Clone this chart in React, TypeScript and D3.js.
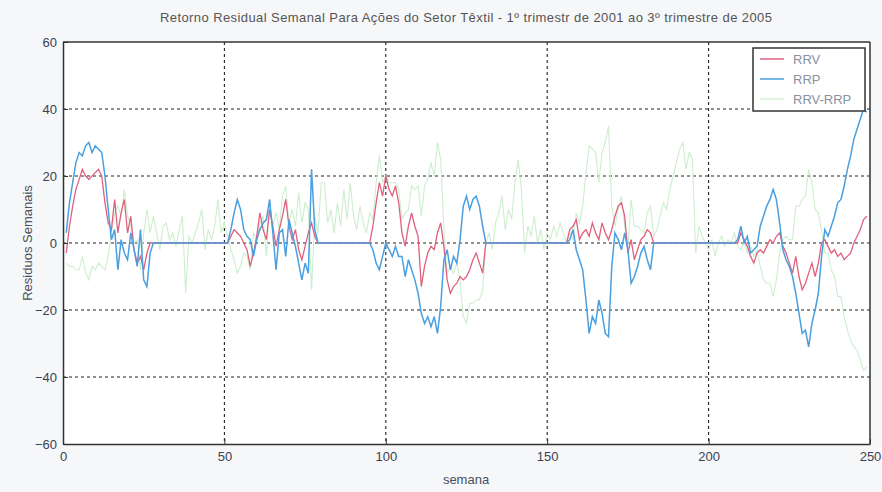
import React, { useEffect, useRef } from 'react'
import * as d3 from 'd3'

// weekly residuals, week 1..249
const rrp = [
  3, 12, 18, 24, 27, 26, 29, 30, 27, 29,
  28, 27, 20, 10, 1, 4, -8, 1, -3, -5,
  3, -2, -7, 4, -11, -13, -3, 0, 0, 0,
  0, 0, 0, 0, 0, 0, 0, 0, 0, 0,
  0, 0, 0, 0, 0, 0, 0, 0, 0, 0,
  0, 4, 9, 13, 10, 4, 2, 1, -4, 1,
  4, 6, 7, 13, 3, -8, 3, 4, -4, 7,
  3, -1, -6, -11, -6, -9, 22, 4, 0, 0,
  0, 0, 0, 0, 0, 0, 0, 0, 0, 0,
  0, 0, 0, 0, 0, -2, -6, -8, -4, 0,
  -2, -4, -1, -4, -4, -10, -5, -8, -11, -15,
  -21, -24, -22, -25, -22, -27, -19, -5, -2, -8,
  -4, -6, 1, 11, 14, 10, 13, 14, 11, 5,
  0, 0, 0, 0, 0, 0, 0, 0, 0, 0,
  0, 0, 0, 0, 0, 0, 0, 0, 0, 0,
  0, 0, 0, 0, 0, 0, 1, 4, -2, -5,
  -8, -17, -27, -22, -24, -17, -21, -27, -28, -7,
  3, 1, -2, 3, -2, -12, -10, -7, -3, -1,
  -5, -8, 0, 0, 0, 0, 0, 0, 0, 0,
  0, 0, 0, 0, 0, 0, 0, 0, 0, 0,
  0, 0, 0, 0, 0, 0, 0, 0, 1, 5,
  0, 2, -3, -2, -1, 5, 8, 11, 13, 16,
  13, 6, -2, -5, -7, -10, -15, -21, -27, -26,
  -31, -24, -20, -15, -4, 4, 2, 5, 8, 12,
  13, 17, 22, 26, 31, 34, 37, 40, 39,
]

const rrv = [
  -3, 5, 11, 16, 19, 22, 20, 19, 20, 21,
  22, 20, 12, 6, 4, 13, 3, 9, 13, 3,
  8, -2, -6, -4, -8, -3, 0, 0, 0, 0,
  0, 0, 0, 0, 0, 0, 0, 0, 0, 0,
  0, 0, 0, 0, 0, 0, 0, 0, 0, 0,
  0, 2, 4, 3, 2, 0, -2, -7, -3, 2,
  9, 4, 1, 10, 5, -1, 4, 8, 13, 5,
  1, 4, -2, -5, -1, 3, 6, 2, 0, 0,
  0, 0, 0, 0, 0, 0, 0, 0, 0, 0,
  0, 0, 0, 0, 0, 5, 12, 18, 14, 20,
  16, 14, 17, 12, 3, -1, 5, 9, 5, 2,
  -13, -7, -3, -1, -2, 3, 6, -1, -11, -15,
  -13, -12, -10, -11, -10, -8, -5, -3, -6, -9,
  0, 0, 0, 0, 0, 0, 0, 0, 0, 0,
  0, 0, 0, 0, 0, 0, 0, 0, 0, 0,
  0, 0, 0, 0, 0, 0, 4, 5, 7, 1,
  3, 4, 2, 6, 3, 1, 6, 3, 1, 4,
  8, 11, 12, 8, -3, 1, -5, -2, 1, 2,
  4, 3, 0, 0, 0, 0, 0, 0, 0, 0,
  0, 0, 0, 0, 0, 0, 0, 0, 0, 0,
  0, 0, 0, 0, 0, 0, 0, 0, 0, 3,
  1, -1, -4, -6, -3, -2, -3, -1, 1, 0,
  2, 3, -1, -3, -6, -9, -4, -10, -14, -12,
  -9, -6, -10, -6, 0, 1, -1, -3, -2, -4,
  -3, -5, -4, -3, 0, 2, 4, 7, 8,
]

const diff = [
  -6, -7, -7, -8, -8, -4, -9, -11, -7, -8,
  -6, -7, -8, -4, 3, 9, 11, 8, 16, 8,
  5, 0, 1, -8, 3, 10, 3, 8, 3, -2,
  5, 6, 1, 3, -1, 4, 8, -15, 2, 0,
  3, 6, 10, -2, 4, 1, 5, 13, 3, 6,
  2, -2, -5, -9, -7, -3, -4, -8, 3, 1,
  6, 8, -4, 12, 5, 9, 4, 14, 17, 6,
  10, 5, 15, 6, 12, 10, -14, 8, 3, 18,
  18, 6, 10, 3, 12, 5, 16, 7, 18, 8,
  4, 11, 6, 3, 9, 7, 18, 26, 18, 20,
  18, 18, 18, 16, 7, 9, 10, 17, 16, 17,
  8, 17, 19, 24, 20, 30, 25, 4, -9, -7,
  -9, -6, -11, -22, -24, -18, -18, -17, -17, -14,
  0, 3, -2, 6, 9, 14, 4, 10, 7, 18,
  25, 16, -3, 5, 2, 8, 0, 4, -2, 3,
  1, 5, 2, 6, 3, 0, 3, 1, 9, 6,
  11, 21, 29, 28, 27, 18, 27, 30, 35, 11,
  5, 10, 14, 5, -1, 13, 5, 5, 4, 3,
  9, 11, 2, 4, 8, 12, 10, 16, 20, 24,
  28, 30, 22, 27, 25, -3, 5, 2, 0, -2,
  1, -4, 0, 2, -1, 1, 0, 3, -1, -2,
  1, -3, -1, -4, -2, -7, -11, -12, -12, -16,
  -11, -3, 1, 2, 1, 1, 11, 11, 13, 14,
  22, 18, 10, 9, 4, -3, -3, -8, -10, -16,
  -16, -22, -26, -29, -31, -32, -35, -38, -37,
]

const xTicks = [0, 50, 100, 150, 200, 250]
const yTicks = [-60, -40, -20, 0, 20, 40, 60]
const legendNames = ['RRV', 'RRP', 'RRV-RRP']

export default function App() {
  const ref = useRef<SVGSVGElement>(null)

  useEffect(() => {
    const width = 882
    const height = 492
    const left = 63
    const right = 870
    const top = 42
    const bottom = 444
    const font = "'Liberation Sans Narrow', 'Liberation Sans', Arial, sans-serif"

    const svg = d3.select(ref.current)
    svg.selectAll('*').remove()

    svg.append('rect').attr('width', width).attr('height', height).attr('fill', '#f6f7f9')
    svg.append('rect')
      .attr('x', left).attr('y', top)
      .attr('width', right - left).attr('height', bottom - top)
      .attr('fill', '#ffffff')

    const x = d3.scaleLinear().domain([0, 250]).range([left, right])
    const y = d3.scaleLinear().domain([-60, 60]).range([bottom, top])

    // dotted grid
    const grid = svg.append('g').attr('stroke', '#222').attr('stroke-width', 1.1).attr('stroke-dasharray', '3,3')
    xTicks.slice(1, -1).forEach(t => {
      grid.append('line').attr('x1', x(t)).attr('x2', x(t)).attr('y1', top).attr('y2', bottom)
    })
    yTicks.slice(1, -1).forEach(t => {
      grid.append('line').attr('x1', left).attr('x2', right).attr('y1', y(t)).attr('y2', y(t))
    })

    const weeks = rrp.map((_, i) => i + 1)
    const line = (vals: number[]) => d3.line<number>()
      .x((_, i) => x(weeks[i]))
      .y(d => y(d))(vals)

    svg.append('path').attr('d', line(diff)).attr('fill', 'none')
      .attr('stroke', '#cdeecd').attr('stroke-width', 1.1)
    svg.append('path').attr('d', line(rrv)).attr('fill', 'none')
      .attr('stroke', '#e0607e').attr('stroke-width', 1.3)
    svg.append('path').attr('d', line(rrp)).attr('fill', 'none')
      .attr('stroke', '#4a9fe0').attr('stroke-width', 1.5)

    // axes
    const xAxis = svg.append('g')
      .attr('transform', `translate(0,${bottom})`)
      .call(d3.axisBottom(x).tickValues(xTicks).tickSize(-5).tickPadding(8).tickSizeOuter(0))
    const yAxis = svg.append('g')
      .attr('transform', `translate(${left},0)`)
      .call(d3.axisLeft(y).tickValues(yTicks).tickSize(-5).tickPadding(6).tickSizeOuter(0))
    ;[xAxis, yAxis].forEach(a => {
      a.select('.domain').attr('stroke', '#333').attr('stroke-width', 1.5)
      a.selectAll('line').attr('stroke', '#333')
      a.selectAll('text').attr('fill', '#3a4152').style('font-family', font).style('font-size', '13px')
    })
    svg.append('line').attr('x1', left).attr('x2', right).attr('y1', top).attr('y2', top)
      .attr('stroke', '#333').attr('stroke-width', 1.5)
    svg.append('line').attr('x1', right).attr('x2', right).attr('y1', top).attr('y2', bottom)
      .attr('stroke', '#333').attr('stroke-width', 1.5)

    // texts
    svg.append('text')
      .attr('x', 466).attr('y', 22)
      .attr('text-anchor', 'middle')
      .attr('textLength', 612)
      .style('font-family', font).style('font-size', '13px').attr('fill', '#555')
      .text('Retorno Residual Semanal Para Ações do Setor Têxtil - 1º trimestr de 2001 ao 3º trimestre de 2005')
    svg.append('text')
      .attr('x', 466).attr('y', 484)
      .attr('text-anchor', 'middle')
      .style('font-family', font).style('font-size', '13px').attr('fill', '#4a5060')
      .text('semana')
    svg.append('text')
      .attr('transform', 'translate(32,243) rotate(-90)')
      .attr('text-anchor', 'middle')
      .style('font-family', font).style('font-size', '13px').attr('fill', '#4a5060')
      .text('Residuos Semanais')

    // legend
    const lg = svg.append('g').attr('transform', 'translate(753,48)')
    lg.append('rect').attr('width', 112).attr('height', 63)
      .attr('fill', '#fff').attr('stroke', '#333').attr('stroke-width', 1.5)
    const legendColors = ['#e0607e', '#4a9fe0', '#d6f0d6']
    legendNames.forEach((n, i) => {
      const ly = 11 + i * 20
      lg.append('line').attr('x1', 7).attr('x2', 31).attr('y1', ly).attr('y2', ly)
        .attr('stroke', legendColors[i]).attr('stroke-width', 1.5)
      lg.append('text').attr('x', 40).attr('y', ly + 5)
        .style('font-family', font).style('font-size', '13px').attr('fill', '#8a90a2')
        .text(n)
    })
  }, [])

  return (
    <svg ref={ref} width={882} height={492} style={{ position: 'absolute', left: 0, top: 0 }} />
  )
}
